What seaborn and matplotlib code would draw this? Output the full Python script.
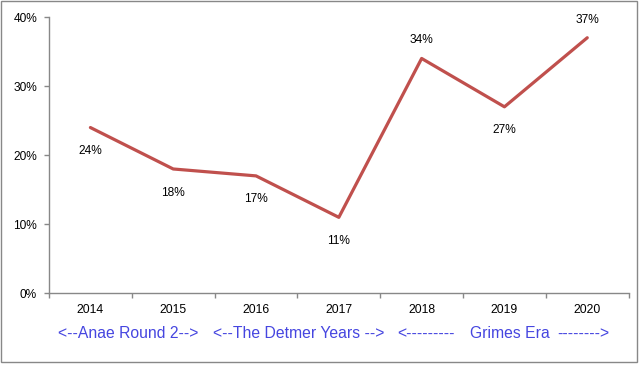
import matplotlib
matplotlib.use("Agg")
import matplotlib.pyplot as plt
import matplotlib.patches as mpatches
import matplotlib.transforms as mtransforms
import pandas as pd
import seaborn as sns

sns.set_theme(style="white")
plt.rcParams['font.family'] = ['Liberation Sans', 'DejaVu Sans']
plt.rcParams['text.color'] = 'black'
plt.rcParams['ytick.labelcolor'] = 'black'

# 数据
years = ["2014", "2015", "2016", "2017", "2018", "2019", "2020"]
rates = [0.24, 0.18, 0.17, 0.11, 0.34, 0.27, 0.37]
label_side = ["below", "below", "below", "below", "above", "below", "above"]
era_labels = ["<--Anae Round 2-->", "<--The Detmer Years -->", "<---------", "Grimes Era", "-------->"]
era_pos = [0.46, 2.51, 4.05, 5.06, 5.95]

df = pd.DataFrame({"x": range(len(years)), "rate": rates})

fig = plt.figure(figsize=(6.43, 3.66), dpi=100)
ax = fig.add_axes([0.0762, 0.1986, 0.9015, 0.7549])

sns.lineplot(data=df, x="x", y="rate", color="#C0504D", linewidth=2.3, ax=ax)

ax.set_xlim(-0.5, len(years) - 0.5)
ax.set_ylim(0, 0.4)
ax.set_yticks([0, 0.1, 0.2, 0.3, 0.4])
ax.set_yticklabels(["0%", "10%", "20%", "30%", "40%"], fontsize=8.6, color="black")
ax.set_xticks([i - 0.5 for i in range(len(years) + 1)])
ax.set_xticklabels([])
ax.set_xlabel("")
ax.set_ylabel("")

for side in ["top", "right"]:
    ax.spines[side].set_visible(False)
for side in ["left", "bottom"]:
    ax.spines[side].set_color("#888888")
    ax.spines[side].set_linewidth(1)
ax.tick_params(axis="both", which="both", direction="out", length=3.6, width=1,
               color="#888888", left=True, bottom=True, pad=5)

# 年份标签
trans = mtransforms.blended_transform_factory(ax.transData, ax.transAxes)
for i, yr in enumerate(years):
    ax.text(i, -0.0615, yr, transform=trans, ha="center", va="center",
            fontsize=8.8, color="black")

# 时期标签
for pos, txt in zip(era_pos, era_labels):
    ax.text(pos, -0.145, txt, transform=trans, ha="center", va="center",
            fontsize=11.3, color="#4646E0")

# 数据标签
for i, (v, s) in enumerate(zip(rates, label_side)):
    off = -17 if s == "below" else 13
    ax.annotate(f"{int(round(v * 100))}%", (i, v), xytext=(0, off),
                textcoords="offset points", ha="center", va="center",
                fontsize=8.6, color="black")

# 外框
fig.patches.append(mpatches.Rectangle((0.0016, 0.011), 0.989, 0.986, transform=fig.transFigure,
                                      fill=False, edgecolor="#888888", linewidth=1))

plt.savefig("out.png", dpi=100)
